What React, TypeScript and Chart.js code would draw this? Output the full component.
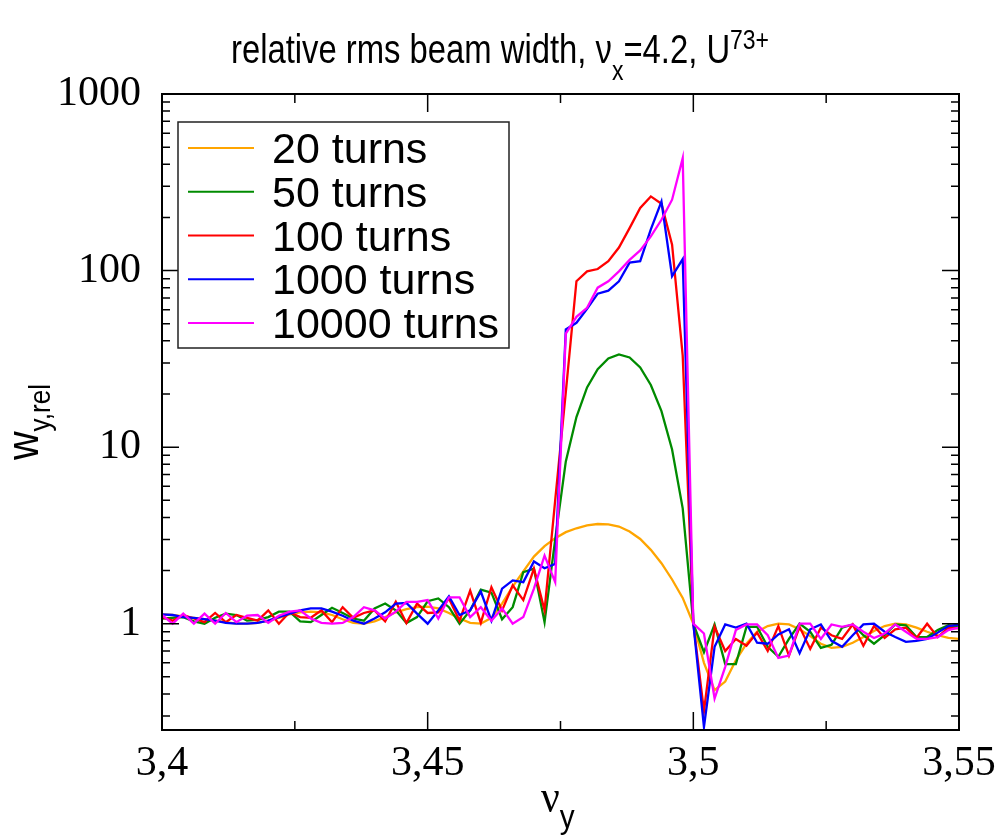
import React, { useEffect, useRef } from "react";
import { Chart, registerables } from "chart.js";

Chart.register(...registerables);

// ---------- data ----------
const nuY = [
  3.400, 3.402, 3.404, 3.406, 3.408, 3.410, 3.412, 3.414, 3.416, 3.418,
  3.420, 3.422, 3.424, 3.426, 3.428, 3.430, 3.432, 3.434, 3.436, 3.438,
  3.440, 3.442, 3.444, 3.446, 3.448, 3.450, 3.452, 3.454, 3.456, 3.458,
  3.460, 3.462, 3.464, 3.466, 3.468, 3.470, 3.472, 3.474, 3.476, 3.478,
  3.480, 3.482, 3.484, 3.486, 3.488, 3.490, 3.492, 3.494, 3.496, 3.498,
  3.500, 3.502, 3.504, 3.506, 3.508, 3.510, 3.512, 3.514, 3.516, 3.518,
  3.520, 3.522, 3.524, 3.526, 3.528, 3.530, 3.532, 3.534, 3.536, 3.538,
  3.540, 3.542, 3.544, 3.546, 3.548, 3.550,
];

const turns20 = [
  1.13, 1.12, 1.10, 1.08, 1.06, 1.04, 1.02, 1.00, 1.00, 1.01,
  1.04, 1.08, 1.13, 1.16, 1.17, 1.16, 1.12, 1.06, 1.01, 1.00,
  1.03, 1.09, 1.16, 1.21, 1.24, 1.25, 1.22, 1.15, 1.07, 1.01,
  1.00, 1.08, 1.30, 1.62, 1.98, 2.40, 2.75, 3.05, 3.30, 3.47,
  3.60, 3.67, 3.65, 3.55, 3.33, 3.02, 2.62, 2.20, 1.78, 1.40,
  1.00, 0.60, 0.42, 0.47, 0.62, 0.77, 0.90, 0.97, 1.00, 0.99,
  0.93, 0.85, 0.77, 0.73, 0.74, 0.78, 0.84, 0.91, 0.97, 1.00,
  0.99, 0.95, 0.90, 0.86, 0.83, 0.82,
];

const turns50 = [
  1.07, 1.08, 1.09, 1.03, 1.00, 1.08, 1.14, 1.12, 1.04, 1.05,
  1.09, 1.17, 1.17, 1.03, 1.02, 1.12, 1.23, 1.15, 1.07, 1.04,
  1.22, 1.30, 1.19, 1.01, 1.09, 1.34, 1.39, 1.24, 1.00, 1.19,
  1.56, 1.50, 1.06, 1.24, 1.96, 2.05, 1.02, 3.0, 8.3, 14.8,
  21.8, 27.6, 31.8, 33.5, 32.2, 28.3, 22.5, 16.0, 9.7, 4.5,
  1.0, 0.69, 0.99, 0.59, 0.59, 0.96, 0.96, 0.74, 0.65, 0.82,
  1.0, 0.90, 0.73, 0.76, 0.95, 0.99, 0.86, 0.77, 0.86, 0.99,
  0.98, 0.84, 0.84, 0.92, 0.98, 0.96,
];

const turns100 = [
  1.09, 1.04, 1.12, 1.07, 1.02, 1.15, 1.02, 1.12, 1.08, 1.04,
  1.19, 1.00, 1.16, 1.09, 1.08, 1.19, 1.02, 1.24, 1.08, 1.15,
  1.19, 1.03, 1.33, 1.01, 1.30, 1.15, 1.16, 1.39, 1.04, 1.54,
  1.01, 1.61, 1.19, 1.65, 1.36, 2.05, 1.19, 5.0, 20.5, 87,
  99, 102, 113, 135, 174, 226, 263, 239, 140, 33,
  1.0, 0.32, 0.96, 0.70, 0.82, 0.75, 0.89, 0.70, 0.97, 0.66,
  0.96, 0.72, 0.95, 0.86, 0.82, 0.99, 0.75, 0.97, 0.83, 0.93,
  0.95, 0.83, 1.0, 0.84, 0.95, 0.94,
];

const turns1000 = [
  1.13, 1.12, 1.09, 1.08, 1.06, 1.04, 1.01, 1.00, 1.00, 1.01,
  1.04, 1.09, 1.14, 1.19, 1.22, 1.22, 1.17, 1.11, 1.04, 1.00,
  1.07, 1.16, 1.30, 1.31, 1.14, 1.00, 1.19, 1.43, 1.12, 1.19,
  1.52, 1.04, 1.58, 1.76, 1.72, 2.25, 2.06, 2.18, 46.4, 50.6,
  60.7, 74, 77, 87, 111, 113, 171, 246, 93, 116,
  1.0, 0.26, 0.74, 0.99, 0.95, 1.0, 0.78, 0.77, 0.87, 0.93,
  0.68, 0.93, 0.99, 0.80, 0.74, 0.86, 0.99, 1.0, 0.90, 0.84,
  0.79, 0.80, 0.82, 0.89, 0.97, 0.99,
];

const turns10000 = [
  1.12, 1.00, 1.14, 1.00, 1.14, 1.00, 1.15, 1.02, 1.11, 1.12,
  1.01, 1.11, 1.17, 1.19, 1.07, 1.01, 1.00, 1.01, 1.09, 1.24,
  1.19, 1.07, 1.17, 1.33, 1.33, 1.36, 1.07, 1.41, 1.41, 1.09,
  1.24, 1.04, 1.22, 1.00, 1.09, 1.58, 2.43, 1.72, 44, 54.7,
  61.5, 80, 87, 99, 115, 130, 156, 194, 252, 433,
  1.0, 0.88, 0.377, 0.57, 0.92, 0.99, 0.99, 0.86, 0.64, 0.66,
  1.0, 1.0, 0.82, 0.99, 0.96, 0.99, 0.90, 0.83, 0.88, 0.99,
  0.90, 0.82, 0.82, 0.84, 0.92, 0.95,
];

const seriesLabels = ["20 turns", "50 turns", "100 turns", "1000 turns", "10000 turns"];
const seriesColors = ["#ffa500", "#008b00", "#ff0000", "#0000ff", "#ff00ff"];
const seriesValues = [turns20, turns50, turns100, turns1000, turns10000];

const xMajorTicks = [3.4, 3.45, 3.5, 3.55];
const xMinorTicks = [3.425, 3.475, 3.525];
const yMajorTicks = [1, 10, 100, 1000];
const yMinorTicks = [
  0.3, 0.4, 0.5, 0.6, 0.7, 0.8, 0.9,
  2, 3, 4, 5, 6, 7, 8, 9,
  20, 30, 40, 50, 60, 70, 80, 90,
  200, 300, 400, 500, 600, 700, 800, 900,
];

const titleMain = "relative rms beam width, \u03bd";
const titleSub = "x";
const titleMid = "=4.2, U";
const titleSup = "73+";
const yTitleMain = "w";
const yTitleSub = "y,rel";
const xTitleMain = "\u03bd";
const xTitleSub = "y";

const SANS = "'Liberation Sans', Arial, sans-serif";
const SERIF = "'Liberation Serif', 'Times New Roman', serif";

type Run = { text: string; font: string; dy: number };

function runsWidth(ctx: CanvasRenderingContext2D, runs: Run[]) {
  let w = 0;
  for (const r of runs) {
    ctx.font = r.font;
    w += ctx.measureText(r.text).width;
  }
  return w;
}

function drawRuns(ctx: CanvasRenderingContext2D, runs: Run[], x: number, y: number, sx = 1) {
  ctx.save();
  ctx.translate(x, y);
  ctx.scale(sx, 1);
  let cx = 0;
  for (const r of runs) {
    ctx.font = r.font;
    ctx.fillText(r.text, cx, r.dy);
    cx += ctx.measureText(r.text).width;
  }
  ctx.restore();
}

const decorPlugin = {
  id: "decor",
  afterDatasetsDraw(chart: any) {
    const ctx: CanvasRenderingContext2D = chart.ctx;
    const a = chart.chartArea;
    const xs = chart.scales.x;
    const ys = chart.scales.y;
    ctx.save();
    ctx.fillStyle = "#000";
    ctx.strokeStyle = "#000";

    // inward tick marks on all four sides
    ctx.lineWidth = 1.5;
    ctx.beginPath();
    const xTick = (v: number, len: number) => {
      const p = xs.getPixelForValue(v);
      ctx.moveTo(p, a.bottom);
      ctx.lineTo(p, a.bottom - len);
      ctx.moveTo(p, a.top);
      ctx.lineTo(p, a.top + len);
    };
    const yTick = (v: number, len: number) => {
      const p = ys.getPixelForValue(v);
      ctx.moveTo(a.left, p);
      ctx.lineTo(a.left + len, p);
      ctx.moveTo(a.right, p);
      ctx.lineTo(a.right - len, p);
    };
    xMajorTicks.forEach((v) => xTick(v, 18));
    xMinorTicks.forEach((v) => xTick(v, 9));
    yMajorTicks.forEach((v) => yTick(v, 17));
    yMinorTicks.forEach((v) => yTick(v, 8));
    ctx.stroke();

    // frame
    ctx.lineWidth = 2;
    ctx.strokeRect(a.left, a.top, a.right - a.left, a.bottom - a.top);

    // legend box
    const lx = 178, ly = 122, lw = 331, lh = 226;
    ctx.fillStyle = "#fff";
    ctx.fillRect(lx, ly, lw, lh);
    ctx.lineWidth = 1.5;
    ctx.strokeStyle = "#222";
    ctx.strokeRect(lx, ly, lw, lh);
    chart.data.datasets.forEach((ds: any, i: number) => {
      const rowY = 148 + i * 43.75;
      ctx.strokeStyle = ds.borderColor;
      ctx.lineWidth = 2;
      ctx.beginPath();
      ctx.moveTo(188, rowY);
      ctx.lineTo(254, rowY);
      ctx.stroke();
      ctx.fillStyle = "#000";
      ctx.font = `43px ${SANS}`;
      ctx.textAlign = "left";
      ctx.textBaseline = "alphabetic";
      ctx.fillText(ds.label, 272, rowY + 15);
    });

    // title (condensed, like the original)
    ctx.fillStyle = "#000";
    ctx.textAlign = "left";
    ctx.textBaseline = "alphabetic";
    const tRuns: Run[] = [
      { text: titleMain, font: `40px ${SANS}`, dy: 0 },
      { text: titleSub, font: `28px ${SANS}`, dy: 17 },
      { text: titleMid, font: `40px ${SANS}`, dy: 0 },
      { text: titleSup, font: `28px ${SANS}`, dy: -14 },
    ];
    const tsx = 0.82;
    const tw = runsWidth(ctx, tRuns) * tsx;
    drawRuns(ctx, tRuns, 500 - tw / 2, 63, tsx);

    // x axis title
    drawRuns(
      ctx,
      [
        { text: xTitleMain, font: `46px ${SERIF}`, dy: 0 },
        { text: xTitleSub, font: `33px ${SANS}`, dy: 16 },
      ],
      541,
      812,
      0.9
    );

    // y axis title (rotated)
    ctx.save();
    ctx.translate(38, 460);
    ctx.rotate(-Math.PI / 2);
    drawRuns(
      ctx,
      [
        { text: yTitleMain, font: `44px ${SANS}`, dy: 0 },
        { text: yTitleSub, font: `29px ${SANS}`, dy: 12 },
      ],
      0,
      0,
      0.9
    );
    ctx.restore();

    ctx.restore();
  },
};

export default function App() {
  const canvasRef = useRef<HTMLCanvasElement | null>(null);

  useEffect(() => {
    const canvas = canvasRef.current;
    if (!canvas) return;
    const datasets = seriesLabels.map((label, i) => ({
      label,
      data: nuY.map((x, j) => ({ x, y: seriesValues[i][j] })),
      borderColor: seriesColors[i],
      backgroundColor: seriesColors[i],
      borderWidth: 2.3,
      pointRadius: 0,
      tension: 0,
      fill: false,
      order: seriesLabels.length - i,
    }));

    const chart = new Chart(canvas, {
      type: "line",
      data: { datasets },
      plugins: [decorPlugin],
      options: {
        animation: false,
        responsive: false,
        devicePixelRatio: 1,
        layout: { padding: { top: 94, right: 41, bottom: 0, left: 0 } },
        plugins: {
          legend: { display: false },
          title: { display: false },
          tooltip: { enabled: false },
        },
        scales: {
          x: {
            type: "linear",
            min: 3.4,
            max: 3.55,
            grid: { display: false },
            border: { display: false },
            afterBuildTicks: (scale: any) => {
              scale.ticks = xMajorTicks.map((v) => ({ value: v }));
            },
            afterFit: (scale: any) => {
              scale.height = 107;
            },
            ticks: {
              autoSkip: false,
              maxRotation: 0,
              padding: 1,
              color: "#000",
              font: { family: SERIF, size: 42 },
              callback: (v: any) => String(v).replace(".", ","),
            },
          },
          y: {
            type: "logarithmic",
            min: 0.25,
            max: 1000,
            grid: { display: false },
            border: { display: false },
            afterBuildTicks: (scale: any) => {
              scale.ticks = yMajorTicks.map((v) => ({ value: v }));
            },
            afterFit: (scale: any) => {
              scale.width = 162;
            },
            ticks: {
              autoSkip: false,
              padding: 13,
              color: "#000",
              font: { family: SERIF, size: 42 },
              callback: (v: any) => String(v),
            },
          },
        },
      },
    } as any);

    return () => chart.destroy();
  }, []);

  return (
    <div style={{ position: "fixed", left: 0, top: 0, width: 1000, height: 837, background: "#fff" }}>
      <canvas ref={canvasRef} width={1000} height={837} style={{ width: 1000, height: 837 }} />
    </div>
  );
}
